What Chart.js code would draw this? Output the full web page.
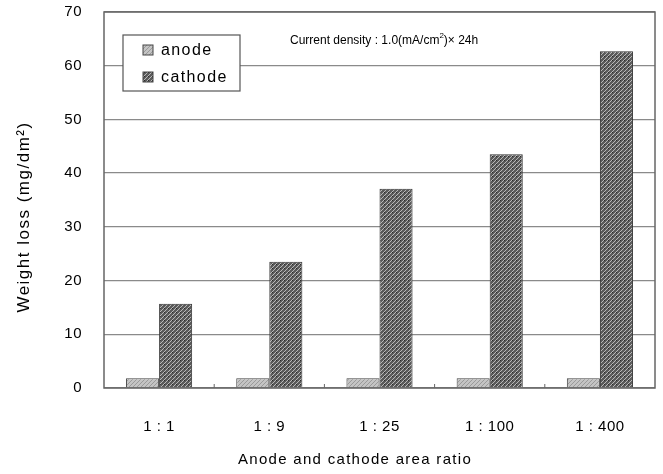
<!DOCTYPE html>
<html>
<head>
<meta charset="utf-8">
<script src="https://cdn.jsdelivr.net/npm/chart.js@4/dist/chart.umd.min.js"></script>
<style>
html,body{margin:0;padding:0;background:#fff;}
#wrap{width:663px;height:474px;position:relative;}
</style>
</head>
<body>
<div id="wrap"><canvas id="c" width="663" height="474"></canvas></div>
<script>
const categories = ["1 : 1", "1 : 9", "1 : 25", "1 : 100", "1 : 400"];
const anodeValues = [1.8, 1.8, 1.8, 1.8, 1.8];
const cathodeValues = [15.7, 23.5, 37.1, 43.5, 62.7];
const seriesLabels = ["anode", "cathode"];
const yTicks = [0, 10, 20, 30, 40, 50, 60, 70];
const xTitle = "Anode and cathode area ratio";
const yTitle = "Weight loss (mg/dm²)";

function makePattern(base, line, dot, size) {
  const p = document.createElement('canvas');
  p.width = size; p.height = size;
  const g = p.getContext('2d');
  g.fillStyle = base; g.fillRect(0, 0, size, size);
  g.strokeStyle = line; g.lineWidth = 1;
  g.beginPath();
  g.moveTo(0, size); g.lineTo(size, 0);
  g.moveTo(-1, 1); g.lineTo(1, -1);
  g.moveTo(size - 1, size + 1); g.lineTo(size + 1, size - 1);
  g.stroke();
  if (dot) { g.fillStyle = dot; g.fillRect(0, 0, 1, 1); }
  return g.createPattern(p, 'repeat');
}
const ctx0 = document.getElementById('c').getContext('2d');
const cathodePattern = makePattern('#5a5a5a', '#b8b8b8', '#2a2a2a', 4);
const anodePattern = makePattern('#c4c4c4', '#9a9a9a', null, 4);

const FONT = "'Liberation Sans', Arial, sans-serif";

const overlay = {
  id: 'overlay',
  beforeDraw(chart) { chart.ctx.letterSpacing = '0.5px'; },
  afterDraw(chart) {
    const ctx = chart.ctx;
    const a = chart.chartArea;
    const xs = chart.scales.x;
    ctx.save();
    ctx.strokeStyle = '#666';
    ctx.lineWidth = 1.5;
    ctx.strokeRect(a.left, a.top, a.right - a.left, a.bottom - a.top);
    ctx.lineWidth = 1;
    for (let i = 0; i < categories.length - 1; i++) {
      const x = (xs.getPixelForValue(i) + xs.getPixelForValue(i + 1)) / 2;
      ctx.beginPath(); ctx.moveTo(x, a.bottom); ctx.lineTo(x, a.bottom - 4); ctx.stroke();
    }
    // legend box
    const lx = 123, ly = 35, lw = 117, lh = 56;
    ctx.fillStyle = '#fff';
    ctx.fillRect(lx, ly, lw, lh);
    ctx.strokeStyle = '#555';
    ctx.lineWidth = 1.2;
    ctx.strokeRect(lx, ly, lw, lh);
    const ds = chart.data.datasets;
    ctx.font = "16px " + FONT;
    ctx.letterSpacing = '1.4px';
    ctx.textBaseline = 'middle';
    ds.forEach((d, i) => {
      const y = ly + 15 + i * 27;
      ctx.fillStyle = d.backgroundColor;
      ctx.fillRect(lx + 20, y - 5, 10, 10);
      ctx.strokeStyle = '#444';
      ctx.lineWidth = 1;
      ctx.strokeRect(lx + 20, y - 5, 10, 10);
      ctx.fillStyle = '#000';
      ctx.fillText(d.label, lx + 38, y + 1);
    });
    // annotation
    ctx.letterSpacing = '0px';
    ctx.font = "12px " + FONT;
    ctx.fillStyle = '#000';
    let tx = 290, ty = 41;
    const t1 = "Current density : 1.0(mA/cm";
    ctx.fillText(t1, tx, ty);
    tx += ctx.measureText(t1).width;
    ctx.font = "8px " + FONT;
    ctx.fillText("2", tx, ty - 5);
    tx += ctx.measureText("2").width;
    ctx.font = "12px " + FONT;
    ctx.fillText(")× 24h", tx, ty);
    // axis titles
    ctx.font = "15px " + FONT;
    ctx.letterSpacing = '1.3px';
    ctx.textAlign = 'center';
    ctx.textBaseline = 'middle';
    ctx.fillText(xTitle, 355, 460);
    ctx.save();
    ctx.translate(24, 217);
    ctx.rotate(-Math.PI / 2);
    ctx.font = "17px " + FONT;
    ctx.letterSpacing = '1.5px';
    ctx.fillText(yTitle, 0, 0);
    ctx.restore();
    ctx.restore();
  }
};

new Chart(ctx0, {
  type: 'bar',
  data: {
    labels: categories,
    datasets: [
      { label: seriesLabels[0], data: anodeValues, backgroundColor: anodePattern, borderColor: '#444', borderWidth: 1 },
      { label: seriesLabels[1], data: cathodeValues, backgroundColor: cathodePattern, borderColor: '#333', borderWidth: 1 }
    ]
  },
  options: {
    responsive: false,
    animation: false,
    layout: { padding: { left: 0, right: 8, top: 12, bottom: 0 } },
    datasets: { bar: { categoryPercentage: 0.6, barPercentage: 1.0 } },
    plugins: { legend: { display: false }, tooltip: { enabled: false } },
    scales: {
      x: {
        afterFit(s) { s.height = 86; s.paddingLeft = 0; s.paddingRight = 0; },
        grid: { display: false },
        border: { display: false },
        ticks: { color: '#000', font: { family: FONT, size: 15 }, padding: 22 },
        title: { display: false }
      },
      y: {
        min: 0, max: 70,
        afterBuildTicks(s) { s.ticks = yTicks.map(v => ({ value: v })); },
        afterFit(s) { s.width = 104; s.paddingTop = 0; s.paddingBottom = 0; },
        grid: { color: '#8a8a8a', lineWidth: 1.3, drawTicks: false },
        border: { display: false },
        ticks: { color: '#000', font: { family: FONT, size: 15 }, padding: 22 },
        title: { display: false }
      }
    }
  },
  plugins: [overlay]
});
</script>
</body>
</html>
